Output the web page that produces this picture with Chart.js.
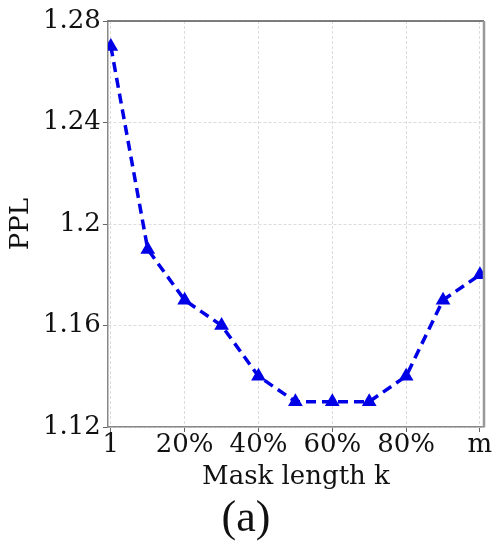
<!DOCTYPE html>
<html>
<head>
<meta charset="utf-8">
<script src="https://cdn.jsdelivr.net/npm/chart.js"></script>
<style>
    html, body { margin: 0; padding: 0; background: #fff; }
    #wrap { width: 494px; height: 541px; }
</style>
</head>
<body>
<div id="wrap"><canvas id="myChart" width="494" height="541"></canvas></div>
<script>
// 데이터
const xLabels = ['1', '10%', '20%', '30%', '40%', '50%', '60%', '70%', '80%', '90%', 'm'];
const pplValues = [1.27, 1.19, 1.17, 1.16, 1.14, 1.13, 1.13, 1.13, 1.14, 1.17, 1.18];
const xTickIdx = [0, 2, 4, 6, 8, 10];
const yTicks = [1.12, 1.16, 1.2, 1.24, 1.28];

const serif = "'DejaVu Serif', serif";
const blue = 'rgb(0, 0, 230)';

// 테두리 (위/오른쪽)
const frame = {
    id: 'frame',
    afterDraw(chart) {
        const { ctx, chartArea: a } = chart;
        ctx.save();
        ctx.strokeStyle = '#555';
        ctx.lineWidth = 1.5;
        ctx.beginPath();
        ctx.moveTo(a.left, a.top);
        ctx.lineTo(a.right, a.top);
        ctx.stroke();
        ctx.strokeStyle = '#999';
        ctx.lineWidth = 2.5;
        ctx.beginPath();
        ctx.moveTo(a.right, a.top);
        ctx.lineTo(a.right, a.bottom);
        ctx.stroke();
        ctx.restore();
    }
};

const ctx = document.getElementById('myChart').getContext('2d');
new Chart(ctx, {
    type: 'line',
    data: {
        datasets: [{
            label: 'PPL',
            data: pplValues.map((v, i) => ({ x: i, y: v })),
            borderColor: blue,
            backgroundColor: blue,
            borderWidth: 3.5,
            borderDash: [10, 6],
            pointStyle: 'triangle',
            pointRadius: 8.5,
            pointBorderWidth: 0,
            tension: 0,
        }],
    },
    options: {
        responsive: false,
        animation: false,
        layout: { padding: { left: 8, right: 10, top: 21, bottom: 0 } },
        plugins: {
            legend: { display: false },
            tooltip: { enabled: false },
            title: {
                display: true,
                position: 'bottom',
                text: '(a)',
                color: '#111',
                font: { family: "'Liberation Serif', serif", size: 44, weight: 'normal', lineHeight: 1 },
                padding: { top: 7, bottom: 0 },
            },
        },
        scales: {
            x: {
                type: 'linear',
                min: -0.08,
                max: 10.11,
                afterBuildTicks: (axis) => { axis.ticks = xTickIdx.map(v => ({ value: v })); },
                ticks: {
                    callback: (v) => xLabels[v],
                    color: '#111',
                    font: { family: serif, size: 26, lineHeight: 1 },
                    padding: 0,
                    maxRotation: 0,
                },
                grid: {
                    color: '#dcdcdc',
                    lineWidth: 1,
                    tickColor: '#666',
                    tickLength: 5,
                    tickBorderDash: [],
                },
                border: { color: '#888', width: 1.5, dash: [3, 2] },
                title: {
                    display: true,
                    text: 'Mask length k',
                    color: '#111',
                    font: { family: serif, size: 26, lineHeight: 1 },
                    padding: { top: 6, bottom: 0 },
                },
            },
            y: {
                min: 1.12,
                max: 1.28,
                afterBuildTicks: (axis) => { axis.ticks = yTicks.map(v => ({ value: v })); },
                ticks: {
                    callback: (v) => String(v),
                    color: '#111',
                    font: { family: serif, size: 26, lineHeight: 1 },
                    padding: 2,
                },
                grid: {
                    color: '#dcdcdc',
                    lineWidth: 1,
                    tickColor: '#666',
                    tickLength: 5,
                    tickBorderDash: [],
                },
                border: { color: '#888', width: 1.5, dash: [3, 2] },
                title: {
                    display: true,
                    text: 'PPL',
                    color: '#111',
                    font: { family: serif, size: 26, lineHeight: 1 },
                    padding: { top: 0, bottom: 7 },
                },
            },
        },
    },
    plugins: [frame],
});
</script>
</body>
</html>
